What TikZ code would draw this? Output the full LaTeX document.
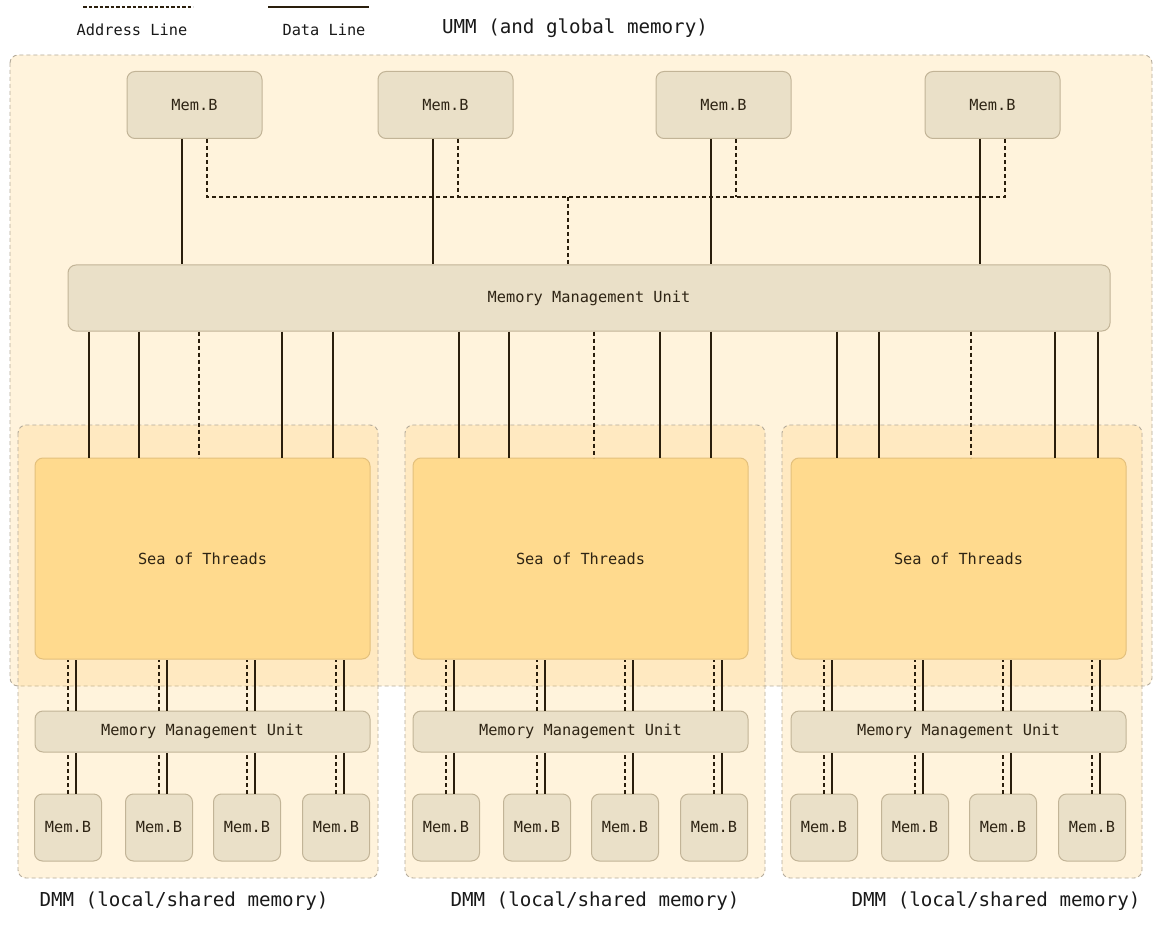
\documentclass[tikz,border=0pt]{standalone}
\usepackage{fontspec}
\setmonofont{DejaVu Sans Mono}
\definecolor{ummfill}{HTML}{FFF3DC}
\definecolor{tint}{RGB}{255,207,115}
\definecolor{boxfill}{HTML}{EAE0C8}
\definecolor{boxline}{HTML}{C2B497}
\definecolor{seafill}{HTML}{FFDA8E}
\definecolor{sealine}{HTML}{E3C07C}
\definecolor{wire}{HTML}{2A1E0C}
\definecolor{txt}{HTML}{2E2414}
\definecolor{frame}{HTML}{B3AA9A}
\begin{document}
\begin{tikzpicture}[x=1pt, y=-1pt,
    font=\ttfamily\fontsize{15.3}{18}\selectfont,
    region/.style={draw=frame, line width=0.9pt, dash pattern=on 4pt off 3pt, rounded corners=8pt},
    membox/.style={draw=boxline, fill=boxfill, text=txt, rounded corners=8pt, line width=1pt, inner sep=0pt},
    seabox/.style={draw=sealine, fill=seafill, text=txt, rounded corners=8pt, line width=1pt, inner sep=0pt,
        minimum width=335, minimum height=201},
    data/.style={draw=wire, line width=1.9pt},
    addr/.style={draw=wire, line width=1.9pt, dash pattern=on 4pt off 3pt},
    biglabel/.style={font=\ttfamily\fontsize{19.2}{22}\selectfont, text=black!90}]
\useasboundingbox (0,0) rectangle (1156,925);

% legend
\coordinate (la) at (83,7);
\coordinate (lb) at (193,7);
\coordinate (lc) at (268,7);
\coordinate (ld) at (369,7);
\draw[addr, dash pattern=on 3.5pt off 2pt] (la) -- (lb);
\draw[data] (lc) -- (ld);
\node[text=black!90] (addrlbl) at (132,30) {Address Line};
\node[text=black!90] (datalbl) at (324,30) {Data Line};
\node[biglabel] (ummlbl) at (575,28) {UMM (and global memory)};

% regions
\filldraw[region, fill=ummfill] (10,55) rectangle (1152,686);
\foreach \xl in {18,405,782}
    \filldraw[region, fill=tint, fill opacity=0.25] (\xl,425) rectangle (\xl+360,878);

% top memory banks and unit
\foreach \i/\x in {1/194.5,2/445.5,3/723.5,4/992.5}
    \node[membox, minimum width=135, minimum height=67] (memT\i) at (\x,105) {Mem.B};
\node[membox, minimum width=1042, minimum height=66] (mmuT) at (589,298) {Memory Management Unit};

% sea of threads, local units and banks
\foreach \g/\xo in {1/35,2/413,3/791} {
    \node[seabox] (sea\g) at (\xo+167.5,558.5) {Sea of Threads};
    \node[membox, minimum width=335, minimum height=41] (mmuB\g) at (\xo+167.5,731.5) {Memory Management Unit};
    \foreach \i/\dx in {1/33,2/124,3/212,4/301}
        \node[membox, minimum width=67, minimum height=67] (memB\g\i) at (\xo+\dx,827.5) {Mem.B};
}

% top wiring
\coordinate (bus) at (568,197);
\foreach \i in {1,...,4} {
    \path ([xshift=-12.5]memT\i.south) coordinate (dT\i);
    \path ([xshift=12.5]memT\i.south) coordinate (aT\i);
    \draw[data] (dT\i) -- (dT\i |- mmuT.north);
}
\draw[addr] (aT1) |- (aT4 |- bus) -- (aT4);
\draw[addr] (aT2) -- (aT2 |- bus);
\draw[addr] (aT3) -- (aT3 |- bus);
\draw[addr] (bus) -- (bus |- mmuT.north);

% unit to threads
\foreach \g/\xa/\xb/\xc/\xd/\xe in {1/89/139/199/282/333, 2/459/509/594/660/711, 3/837/879/971/1055/1098} {
    \foreach \x in {\xa,\xb,\xd,\xe}
        \draw[data] (\x,0 |- mmuT.south) -- (\x,0 |- sea\g.north);
    \draw[addr] (\xc,0 |- mmuT.south) -- (\xc,0 |- sea\g.north);
}

% threads to local banks
\foreach \g in {1,2,3} {
    \foreach \i in {1,...,4} {
        \path ([xshift=8]memB\g\i.north) coordinate (dB\g\i);
        \draw[addr] (memB\g\i.north) -- (memB\g\i.north |- mmuB\g.south);
        \draw[addr] (memB\g\i.north |- mmuB\g.north) -- (memB\g\i.north |- sea\g.south);
        \draw[data] (dB\g\i) -- (dB\g\i |- mmuB\g.south);
        \draw[data] (dB\g\i |- mmuB\g.north) -- (dB\g\i |- sea\g.south);
    }
}

% region labels
\foreach \i/\x in {1/184,2/595,3/996}
    \node[biglabel] (dmmlbl\i) at (\x,901) {DMM (local/shared memory)};
\end{tikzpicture}
\end{document}
